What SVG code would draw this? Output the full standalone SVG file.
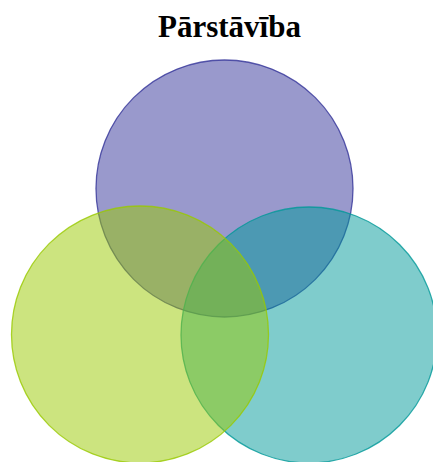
<svg xmlns="http://www.w3.org/2000/svg" width="433" height="462" viewBox="0 0 433 462">
<style>
.title{font-family:"Liberation Serif","Times New Roman",serif;font-weight:bold;font-size:31px;fill:#000}
.c{fill-opacity:0.5;stroke-width:1.3;stroke-opacity:0.8}
</style>
<rect width="433" height="462" fill="#fff"/>
<text class="title" x="229.5" y="37" text-anchor="middle">Pārstāvība</text>
<g id="node-top"><circle class="c" cx="224.5" cy="188.5" r="128.5" fill="#333399" stroke="#333399"/></g>
<g id="node-right"><circle class="c" cx="309" cy="335" r="128" fill="#009999" stroke="#009999"/></g>
<g id="node-left"><circle class="c" cx="140" cy="334.5" r="128.5" fill="#99C900" stroke="#99C900"/></g>
<g id="connectors"></g>
</svg>
